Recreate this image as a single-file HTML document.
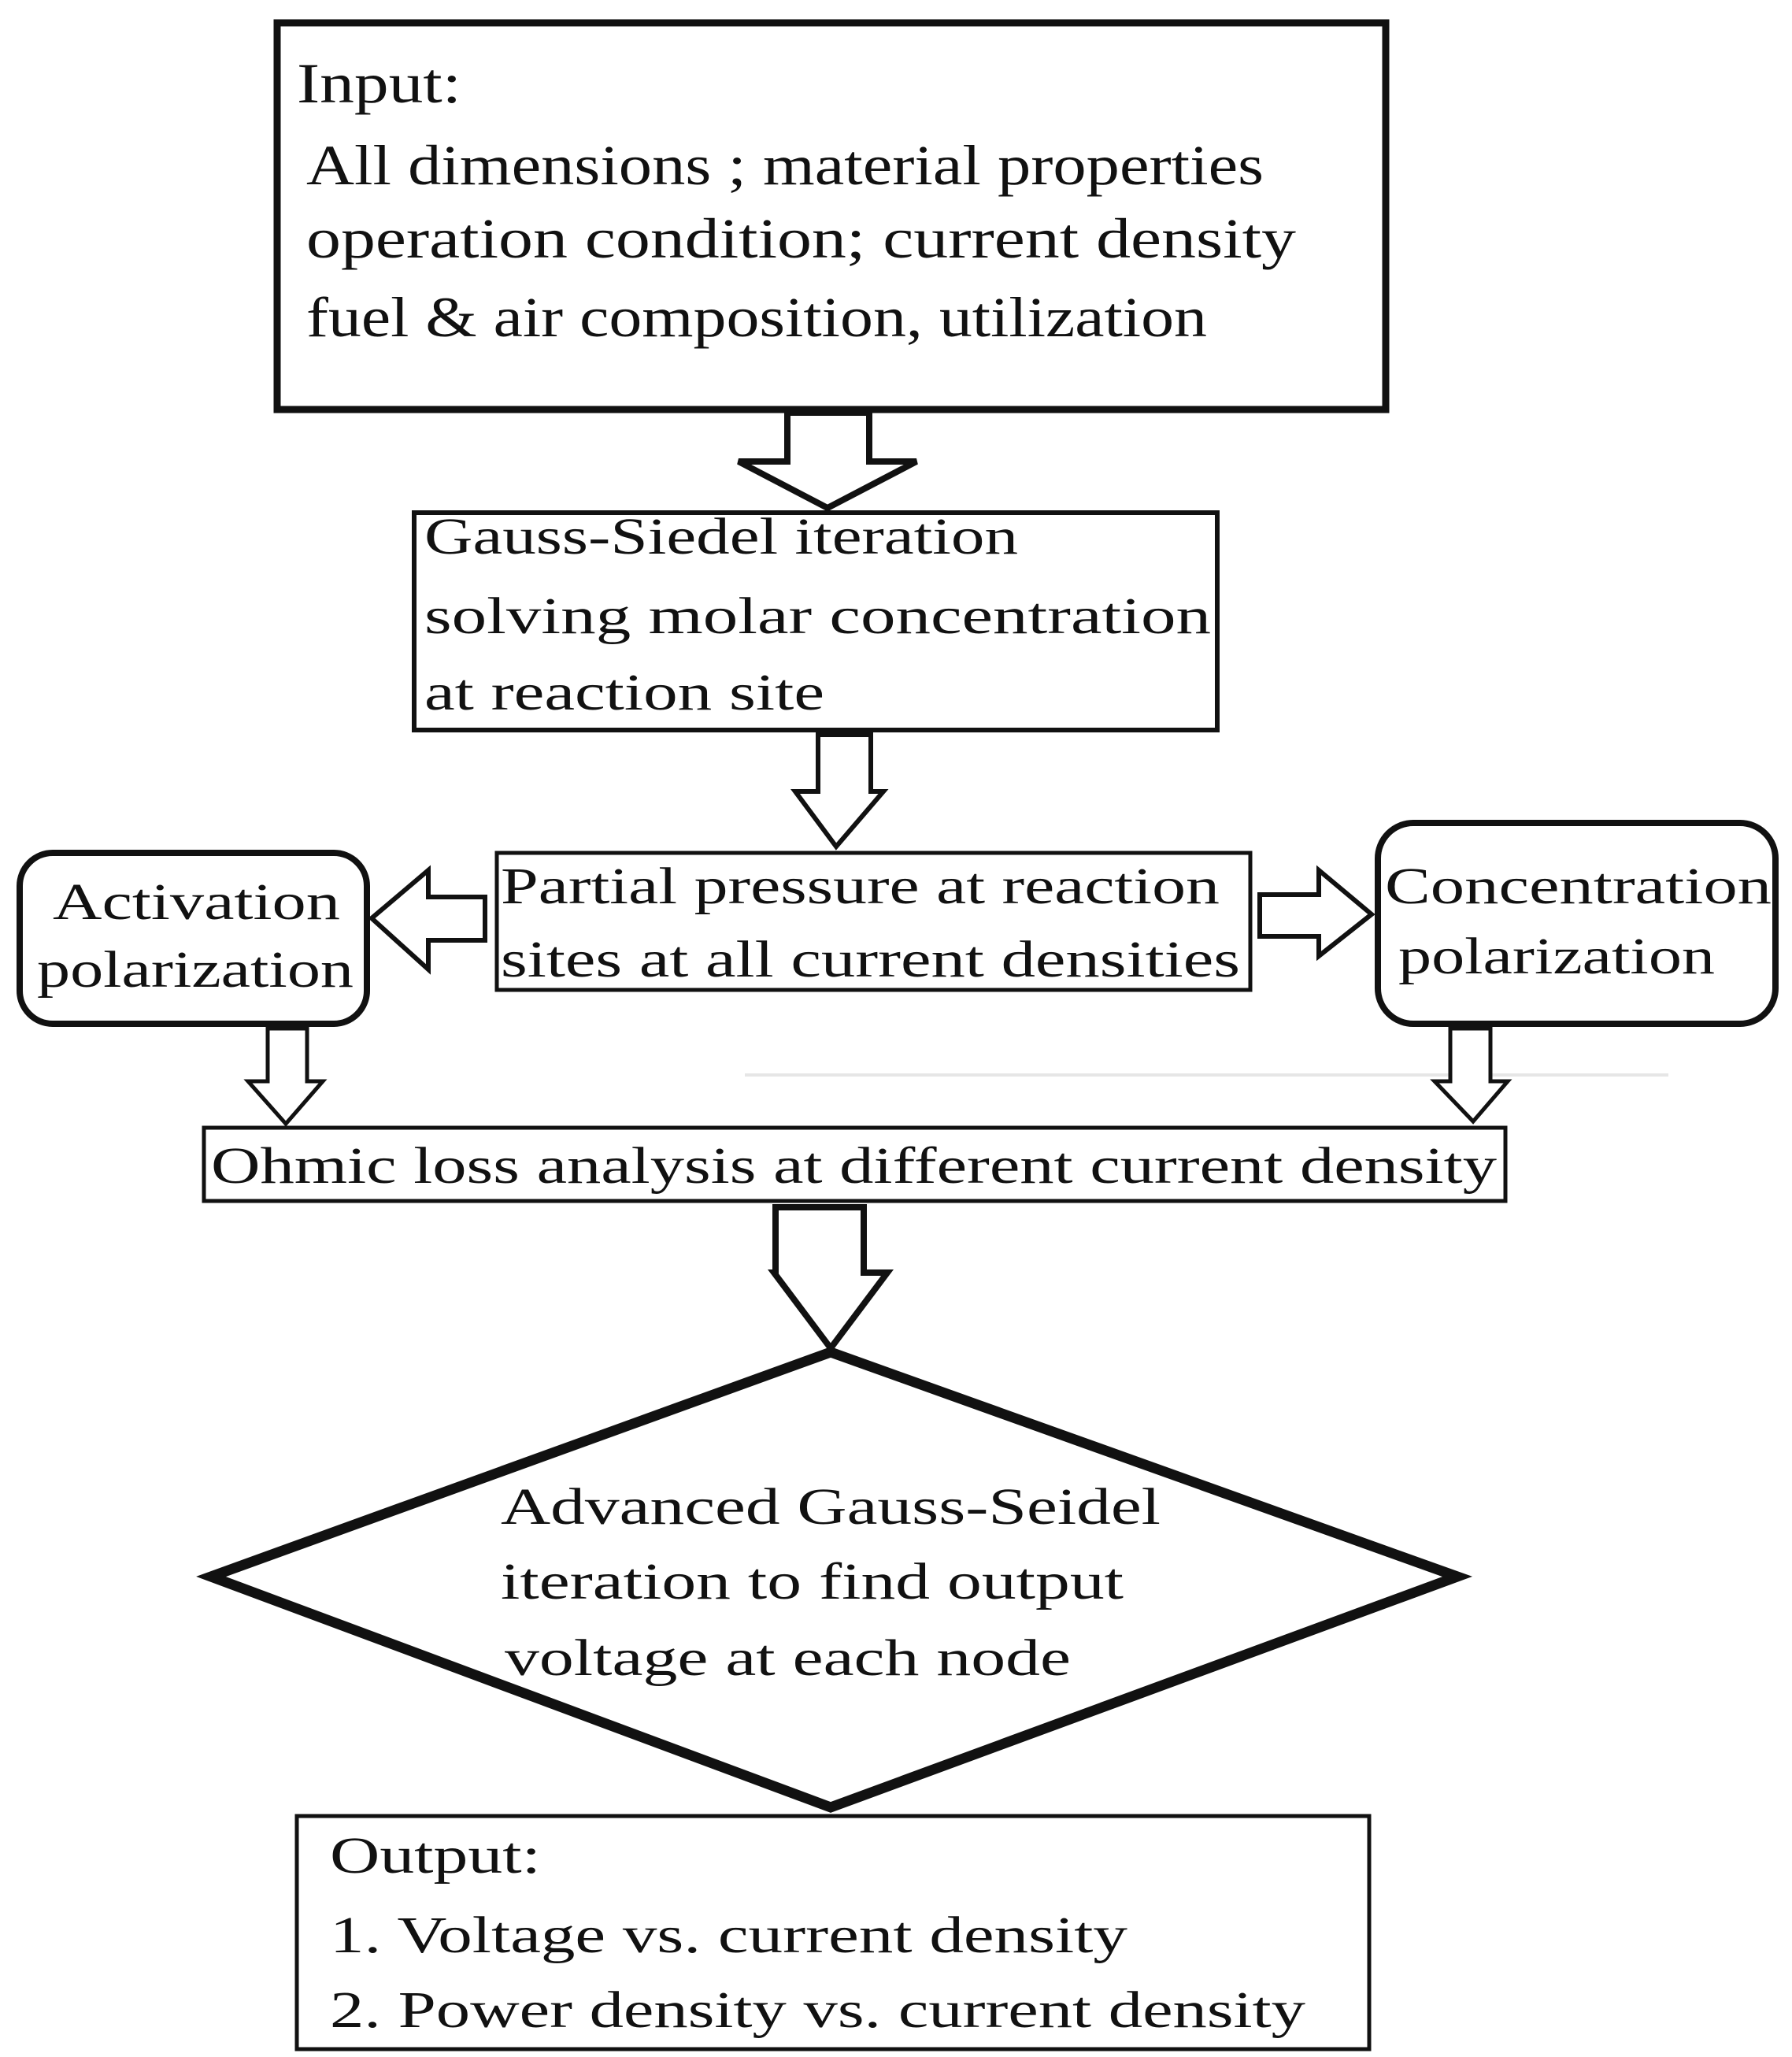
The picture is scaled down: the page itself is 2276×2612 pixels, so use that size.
<!DOCTYPE html>
<html><head><meta charset="utf-8"><style>
html,body{margin:0;padding:0;background:#fff;}
svg{display:block;}
text{font-family:"Liberation Serif",serif;fill:#111;}
</style></head><body>
<svg width="2276" height="2612" viewBox="0 0 2276 2612" xmlns="http://www.w3.org/2000/svg">
<g fill="none" stroke="#111">
<rect x="352" y="29" width="1408" height="491" stroke-width="9"/>
<rect x="526" y="651" width="1020" height="276" stroke-width="6"/>
<rect x="631" y="1083" width="957" height="174" stroke-width="5"/>
<rect x="25" y="1083" width="441" height="217" rx="42" stroke-width="8"/>
<rect x="1750" y="1045" width="505" height="255" rx="45" stroke-width="8"/>
<rect x="259" y="1432" width="1653" height="93" stroke-width="5"/>
<polygon points="1055,1717 1851,2002 1055,2295 268,2002" stroke-width="13" stroke-linejoin="miter"/>
<rect x="377" y="2306" width="1362" height="296" stroke-width="5"/>
<line x1="946" y1="1365" x2="2119" y2="1365" stroke="#e6e6e6" stroke-width="4"/>
</g>
<g fill="#fff" stroke="#111" stroke-linejoin="miter">
<polygon points="1000,524 1104,524 1104,586 1164,586 1051,645 938,586 1000,586" stroke-width="8"/>
<polygon points="1039,933 1106,933 1106,1005 1122,1005 1062,1075 1010,1005 1039,1005" stroke-width="6"/>
<polygon points="616,1139 616,1194 544,1194 544,1231 472,1166 544,1105 544,1139" stroke-width="6"/>
<polygon points="1600,1136 1675,1136 1675,1105 1742,1161 1675,1214 1675,1189 1600,1189" stroke-width="6"/>
<polygon points="340,1306 390,1306 390,1373 410,1373 363,1427 315,1373 340,1373" stroke-width="5"/>
<polygon points="1842,1306 1893,1306 1893,1373 1915,1373 1871,1424 1822,1373 1842,1373" stroke-width="5"/>
<polygon points="985,1533 1097,1533 1097,1616 1127,1616 1055,1712 983,1616 985,1616" stroke-width="8"/>
</g>
<g font-size="72">
<text x="377" y="130" textLength="209" lengthAdjust="spacingAndGlyphs">Input:</text>
<text x="389" y="234" textLength="1216" lengthAdjust="spacingAndGlyphs">All dimensions ; material properties</text>
<text x="389" y="327" textLength="1257" lengthAdjust="spacingAndGlyphs">operation condition; current density</text>
<text x="389" y="427" textLength="1144" lengthAdjust="spacingAndGlyphs">fuel &amp; air composition, utilization</text>
</g>
<g font-size="66">
<text x="539" y="703" textLength="754" lengthAdjust="spacingAndGlyphs">Gauss-Siedel iteration</text>
<text x="539" y="804" textLength="999" lengthAdjust="spacingAndGlyphs">solving molar concentration</text>
<text x="539" y="901" textLength="508" lengthAdjust="spacingAndGlyphs">at reaction site</text>
<text x="636" y="1147" textLength="913" lengthAdjust="spacingAndGlyphs">Partial pressure at reaction</text>
<text x="636" y="1240" textLength="939" lengthAdjust="spacingAndGlyphs">sites at all current densities</text>
<text x="67" y="1167" textLength="365" lengthAdjust="spacingAndGlyphs">Activation</text>
<text x="47" y="1253" textLength="402" lengthAdjust="spacingAndGlyphs">polarization</text>
<text x="1759" y="1147" textLength="491" lengthAdjust="spacingAndGlyphs">Concentration</text>
<text x="1776" y="1236" textLength="402" lengthAdjust="spacingAndGlyphs">polarization</text>
<text x="268" y="1502" textLength="1633" lengthAdjust="spacingAndGlyphs">Ohmic loss analysis at different current density</text>
<text x="636" y="1935" textLength="838" lengthAdjust="spacingAndGlyphs">Advanced Gauss-Seidel</text>
<text x="636" y="2030" textLength="791" lengthAdjust="spacingAndGlyphs">iteration to find output</text>
<text x="641" y="2127" textLength="719" lengthAdjust="spacingAndGlyphs">voltage at each node</text>
<text x="419" y="2378" textLength="268" lengthAdjust="spacingAndGlyphs">Output:</text>
<text x="419" y="2479" textLength="1013" lengthAdjust="spacingAndGlyphs">1. Voltage vs. current density</text>
<text x="419" y="2574" textLength="1239" lengthAdjust="spacingAndGlyphs">2. Power density vs. current density</text>
</g>
</svg>
</body></html>
